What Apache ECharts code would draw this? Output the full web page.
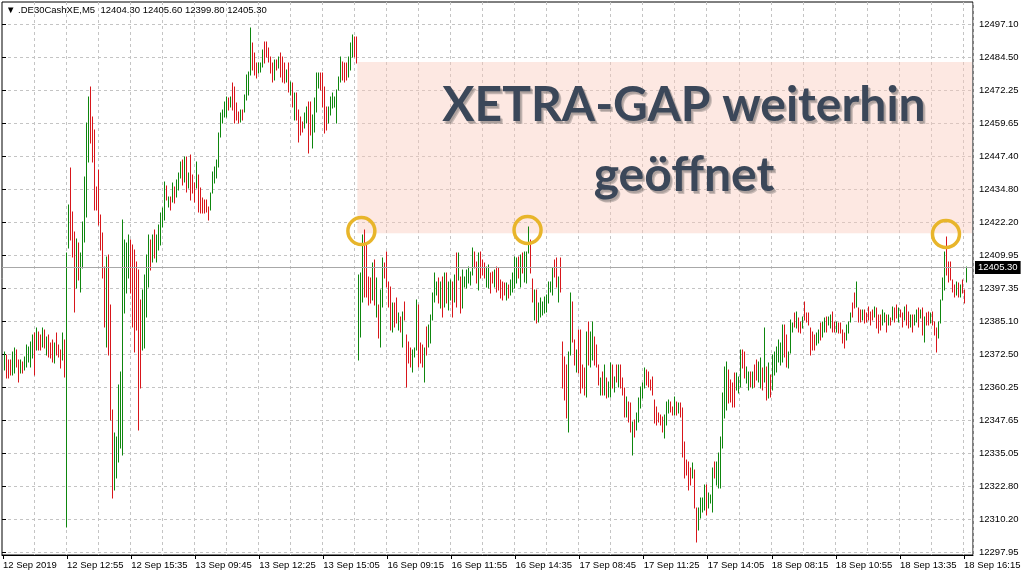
<!DOCTYPE html>
<html><head><meta charset="utf-8">
<script src="https://cdn.jsdelivr.net/npm/echarts@6/dist/echarts.min.js"></script>
<style>html,body{margin:0;padding:0;background:#fff}#c{width:1024px;height:576px}</style>
</head><body><div id="c"></div>
<script>
const headerText = '\u25BC .DE30CashXE,M5  12404.30 12405.60 12399.80 12405.30';
const lastClose = 12405.30;
const xTickLabels = ['12 Sep 2019','12 Sep 12:55','12 Sep 15:35','13 Sep 09:45','13 Sep 12:25','13 Sep 15:05','16 Sep 09:15','16 Sep 11:55','16 Sep 14:35','17 Sep 08:45','17 Sep 11:25','17 Sep 14:05','18 Sep 08:15','18 Sep 10:55','18 Sep 13:35','18 Sep 16:15'];
const yTickLabels = ['12297.95','12310.20','12322.80','12335.05','12347.65','12360.25','12372.50','12385.10','12397.35','12409.95','12422.20','12434.80','12447.40','12459.65','12472.25','12484.50','12497.10'];
const titleLines = ['XETRA-GAP weiterhin', 'ge\u00f6ffnet'];

// bar direction per bar: G = up (close > open), R = down
const dirs =
 'GRRRGGRRGR'+'GGGGGRGRRG'+'RGRRRGRRRG'+'RGGRRRGRGG'+'GGGRRRRRRR'+'RGRRRGGGGG'+'GGGRRRRRRG'+'GGGRGRGGGG'+
 'GRGRGRGGGR'+'GRGRRRGRRR'+'RRRGGGGGGG'+'GGRGRRRRGR'+'GGGGRRRGGG'+'RRRRRGRGRR'+'RGRGRGRRRR'+'GGRRGGGGRR'+
 'RRGGGGGGGR'+'RRGGGRRGGG'+'RRRRGRGRGG'+'RRRRGRRGRG'+'RRRRGGGRRR'+'GRGGGGGRGR'+'GRGGRGRGRG'+'GGGGGRRGRR'+
 'RGGRRGRRRR'+'RGRGGGGRGR'+'GGGRRGRGGG'+'GGGGGRRGRR'+'RRGGRRGRRR'+'RGRGGRRRGR'+'GRGGRGRGRR'+'RGRRGRGGGG'+
 'GRRRRRRRRR'+'GGGRRGRGRR'+'RRRRGRRGGG'+'GRGGGRGGGG'+'GGRRRRGGGR'+'RGGRGRRGGR'+'GRGRGGGGGG'+'RRGGGRGRRG'+
 'RRRRRRGGRG'+'GRGGRRGRRR'+'RGGGRRGRRG'+'RRRRRGRRRG'+'GRGRGRRGRR'+'GRRGRGGRGR'+'GRRGRRRGGG'+'GRRRRRGRGR'+'RG';

const highs = [
12373.5,12372.2,12370.3,12370.3,12373.5,12374.7,12374.1,12370.3,12370.3,12369.7,
12371.6,12376.0,12375.3,12377.2,12379.8,12380.4,12382.3,12381.0,12379.8,12382.3,
12381.7,12379.1,12379.8,12376.6,12377.9,12376.6,12380.4,12376.0,12374.1,12380.4,
12377.9,12410.7,12429.0,12442.9,12426.5,12418.9,12416.0,12414.5,12410.7,12422.7,
12439.7,12459.9,12470.0,12473.8,12462.4,12457.4,12435.9,12442.2,12425.2,12418.3,
12405.6,12409.4,12410.1,12391.1,12351.4,12342.5,12341.3,12360.8,12365.9,12423.3,
12415.7,12414.5,12417.6,12415.7,12413.8,12411.9,12407.4,12404.4,12393.0,12396.8,
12402.5,12410.1,12417.6,12415.7,12417.6,12419.5,12417.6,12421.4,12425.9,12427.8,
12437.7,12436.2,12432.0,12432.0,12437.4,12435.8,12438.5,12441.1,12445.3,12446.0,
12447.2,12447.2,12441.1,12447.9,12440.3,12437.4,12445.3,12440.3,12435.4,12431.6,
12430.9,12430.9,12428.2,12433.5,12441.5,12443.4,12446.0,12456.2,12463.8,12465.0,
12468.0,12469.9,12469.5,12469.9,12475.2,12473.7,12467.6,12464.2,12465.0,12465.0,
12470.6,12478.2,12479.3,12496.0,12490.3,12486.5,12482.7,12482.7,12482.7,12487.7,
12490.7,12490.7,12488.4,12485.0,12482.7,12483.9,12483.9,12485.0,12486.5,12485.0,
12482.7,12480.1,12482.7,12475.6,12475.2,12471.4,12471.4,12465.0,12462.3,12460.4,
12463.8,12466.1,12468.0,12468.0,12463.1,12469.5,12479.0,12479.0,12479.0,12479.0,
12473.7,12466.1,12466.1,12469.9,12471.4,12469.9,12472.5,12477.4,12485.0,12483.1,
12482.7,12482.7,12485.0,12490.3,12493.3,12492.6,12492.6,12402.5,12403.2,12417.6,
12419.5,12413.8,12401.7,12401.4,12407.0,12408.2,12401.4,12391.1,12396.8,12408.9,
12407.0,12411.2,12399.8,12397.9,12391.9,12391.9,12393.8,12388.1,12386.6,12388.5,
12392.3,12379.8,12377.1,12374.9,12374.1,12374.9,12393.0,12391.1,12376.7,12376.0,
12374.9,12382.8,12383.6,12387.3,12395.7,12403.2,12399.8,12401.4,12399.8,12401.7,
12403.2,12403.2,12399.8,12400.6,12399.8,12402.5,12410.8,12410.8,12401.7,12404.4,
12401.7,12404.4,12405.5,12403.6,12412.7,12411.2,12407.4,12410.8,12411.2,12408.2,
12407.0,12405.5,12406.3,12403.2,12403.6,12404.4,12405.5,12405.1,12400.6,12399.8,
12399.5,12399.5,12398.7,12400.6,12403.2,12409.3,12408.9,12409.3,12410.1,12410.8,
12411.2,12411.2,12420.7,12415.7,12401.0,12396.8,12396.8,12391.9,12393.8,12392.3,
12394.2,12394.9,12399.8,12399.8,12405.1,12408.2,12408.9,12401.7,12408.9,12377.1,
12371.4,12368.4,12373.3,12395.7,12392.3,12377.9,12374.1,12381.7,12381.7,12368.4,
12367.3,12380.9,12384.7,12380.9,12384.7,12379.0,12376.0,12368.4,12363.5,12365.8,
12368.4,12363.5,12362.0,12369.2,12368.4,12363.9,12368.4,12368.4,12368.4,12363.5,
12359.7,12356.3,12354.4,12354.0,12346.8,12347.6,12350.2,12355.9,12360.1,12361.6,
12367.3,12366.5,12365.8,12362.7,12363.9,12355.2,12352.5,12350.2,12349.5,12348.7,
12349.5,12354.4,12355.2,12354.4,12352.5,12356.3,12354.4,12354.0,12354.0,12352.1,
12339.3,12332.4,12331.7,12329.4,12331.3,12328.7,12314.3,12314.3,12318.1,12318.1,
12323.0,12323.0,12319.9,12319.2,12329.4,12331.7,12331.7,12335.1,12341.1,12357.8,
12367.7,12369.5,12366.5,12362.7,12361.6,12365.4,12365.4,12363.9,12374.1,12374.1,
12373.3,12367.7,12365.8,12365.8,12365.8,12368.4,12370.3,12369.5,12371.1,12367.3,
12382.4,12367.7,12369.2,12364.6,12372.2,12373.3,12375.2,12377.9,12376.7,12383.6,
12383.6,12379.8,12373.3,12385.4,12384.3,12388.1,12388.5,12386.2,12384.7,12386.6,
12392.3,12388.1,12388.1,12382.4,12380.9,12379.8,12380.5,12381.7,12384.3,12384.7,
12386.2,12386.6,12386.6,12387.3,12388.5,12384.7,12384.7,12384.3,12384.3,12381.7,
12380.5,12383.6,12384.7,12388.1,12391.9,12395.7,12399.8,12390.0,12389.2,12389.2,
12389.2,12388.1,12390.4,12388.5,12389.2,12390.4,12390.0,12387.3,12387.3,12389.2,
12388.1,12387.3,12387.3,12386.2,12390.4,12390.0,12391.1,12390.0,12389.2,12388.1,
12390.4,12391.1,12388.5,12387.3,12387.3,12387.3,12389.2,12390.0,12389.2,12390.0,
12386.6,12388.1,12388.5,12388.1,12388.5,12384.7,12382.4,12384.7,12393.0,12401.4,
12411.2,12416.9,12407.4,12407.4,12400.6,12398.7,12399.8,12399.5,12398.7,12400.6,
12396.8,12405.6];

const lows = [
12366.5,12363.4,12363.4,12364.6,12364.6,12365.3,12367.8,12362.1,12365.3,12365.3,
12366.5,12367.8,12369.7,12367.8,12370.9,12364.6,12374.1,12374.1,12374.1,12375.3,
12374.7,12372.2,12371.6,12370.9,12369.7,12369.1,12372.2,12371.6,12367.2,12370.3,
12364.0,12307.2,12412.6,12415.7,12409.4,12388.6,12397.4,12400.6,12396.2,12405.0,
12415.1,12424.6,12445.4,12452.3,12445.4,12427.1,12427.1,12421.4,12411.9,12401.2,
12382.9,12375.3,12372.2,12347.6,12317.9,12321.1,12325.5,12331.8,12336.9,12334.3,
12388.0,12395.5,12401.2,12395.5,12382.8,12373.3,12381.7,12343.8,12359.7,12374.1,
12374.9,12386.6,12397.9,12404.4,12407.4,12408.9,12407.4,12411.9,12413.8,12420.7,
12423.3,12430.9,12428.2,12427.1,12430.1,12429.7,12432.0,12434.7,12439.2,12436.6,
12437.7,12433.9,12435.4,12430.9,12433.5,12430.1,12435.4,12426.3,12425.9,12425.9,
12425.9,12426.3,12423.3,12427.1,12433.5,12437.4,12439.2,12443.4,12454.7,12460.0,
12462.3,12462.3,12465.0,12466.1,12465.0,12460.0,12461.2,12460.0,12460.4,12461.2,
12464.2,12468.7,12470.6,12478.2,12480.1,12478.2,12477.1,12479.0,12479.3,12481.2,
12482.7,12485.0,12483.1,12479.0,12475.6,12476.3,12480.1,12480.9,12477.4,12475.6,
12475.2,12475.6,12471.8,12470.6,12466.1,12461.2,12461.2,12452.8,12455.5,12456.6,
12458.1,12460.0,12448.7,12455.5,12450.6,12456.6,12464.2,12473.3,12472.5,12466.1,
12456.2,12457.4,12460.0,12463.1,12465.7,12466.1,12460.0,12472.5,12475.6,12476.3,
12475.6,12476.3,12477.4,12480.1,12485.0,12485.0,12482.7,12370.3,12379.0,12392.3,
12394.2,12394.2,12391.1,12391.9,12393.0,12391.1,12386.6,12378.6,12375.2,12390.4,
12401.4,12397.9,12390.4,12381.7,12380.9,12382.8,12384.3,12381.7,12380.9,12375.2,
12385.4,12360.1,12369.2,12367.7,12365.8,12371.4,12374.1,12367.7,12369.2,12367.7,
12362.0,12372.2,12375.2,12376.7,12385.4,12392.3,12394.9,12391.9,12390.0,12386.6,
12390.4,12391.9,12389.2,12393.0,12386.6,12392.3,12390.4,12400.6,12388.1,12390.0,
12397.9,12397.6,12399.5,12398.7,12402.5,12405.1,12399.5,12396.8,12401.4,12402.5,
12401.4,12397.9,12397.6,12395.7,12399.5,12397.9,12396.0,12396.8,12393.8,12393.0,
12394.9,12393.0,12393.8,12394.9,12396.0,12397.6,12399.5,12401.4,12397.9,12403.2,
12399.8,12399.5,12410.8,12403.2,12392.3,12385.4,12384.3,12384.7,12386.6,12387.3,
12388.1,12388.5,12391.9,12396.0,12394.9,12401.7,12397.9,12392.3,12396.0,12359.7,
12355.2,12348.4,12343.0,12372.2,12377.1,12368.4,12365.8,12365.4,12357.8,12359.7,
12357.1,12356.3,12368.4,12367.7,12370.3,12368.4,12367.7,12360.8,12357.1,12357.1,
12357.1,12355.9,12356.3,12356.3,12359.7,12358.2,12362.0,12360.1,12359.7,12357.1,
12348.7,12348.7,12346.8,12343.0,12334.3,12341.1,12343.8,12346.8,12352.1,12355.9,
12359.7,12360.8,12360.1,12358.9,12357.1,12346.5,12345.7,12346.8,12345.7,12343.0,
12340.8,12345.7,12350.2,12350.6,12349.5,12349.5,12349.5,12350.2,12348.7,12333.6,
12325.6,12326.8,12321.1,12323.0,12325.6,12314.3,12301.4,12305.9,12310.5,12312.8,
12313.5,12311.6,12314.3,12316.2,12312.8,12325.6,12323.0,12321.8,12321.8,12337.0,
12348.4,12351.4,12354.0,12354.4,12352.5,12352.5,12358.9,12357.8,12360.1,12367.3,
12363.5,12361.6,12358.9,12360.1,12359.7,12360.1,12362.7,12362.0,12359.7,12358.9,
12362.0,12355.2,12355.9,12356.3,12358.9,12364.6,12365.8,12369.5,12368.4,12369.5,
12371.4,12367.7,12367.3,12372.9,12380.9,12382.8,12382.4,12380.9,12380.5,12382.4,
12385.4,12384.7,12383.6,12372.2,12374.1,12374.1,12376.0,12376.7,12377.9,12379.0,
12380.9,12380.9,12383.6,12382.4,12380.9,12380.9,12380.9,12380.5,12380.5,12376.7,
12374.9,12377.9,12380.5,12384.7,12386.6,12390.0,12390.4,12384.7,12384.7,12385.4,
12384.3,12384.7,12385.4,12383.6,12385.4,12386.6,12382.4,12380.5,12381.7,12383.6,
12384.7,12380.9,12383.6,12383.6,12385.4,12384.7,12386.2,12384.7,12386.6,12382.8,
12385.4,12383.6,12382.4,12382.8,12380.9,12383.6,12384.7,12382.8,12386.2,12379.8,
12377.1,12383.6,12383.6,12384.3,12383.6,12379.8,12373.3,12378.6,12384.3,12393.0,
12396.8,12402.5,12399.8,12400.6,12396.0,12394.2,12394.9,12394.2,12394.2,12395.7,
12391.9,12399.8];

// gap zone (Friday close down to Monday level) and the three circled highs
const gapZoneTop = 12483.1;
const gapZoneBottom = 12418.3;
const gapStartBar = 177;
const circledBars = [179, 262, 471];
const circledPrices = [12419.1, 12419.5, 12418.0];

const SLOTS = 485; // bars plus empty chart shift on the right
const categories = [];
for (let i = 0; i < SLOTS; i++) categories.push(String(i));
// [bar index, low, high, up(1)/down(0)]
const barData = highs.map((h, i) => [i, lows[i], h, dirs[i] === 'G' ? 1 : 0]);

const GREEN = '#0e860e', RED = '#d8161b';
const FONT = '"Liberation Sans", Arial, sans-serif';
const TITLE_FONT = 'bold 48px Lato, sans-serif';
const chart = echarts.init(document.getElementById('c'), null, {renderer: 'canvas'});

function renderBar(params, api) {
  const i = api.value(0);
  const lo = api.coord([i, api.value(1)]);
  const hi = api.coord([i, api.value(2)]);
  // snap to a steady 2px pixel grid so every bar is one crisp device column
  const x = 2 * Math.floor(lo[0] / 2) + 2.5;
  let y1 = Math.round(lo[1]) + 0.5, y2 = Math.round(hi[1]) - 0.5;
  if (y1 - y2 < 1) y2 = y1 - 1;
  return {
    type: 'line',
    shape: {x1: x, y1: y1, x2: x, y2: y2},
    style: {stroke: api.value(3) === 1 ? GREEN : RED, lineWidth: 1}
  };
}

const titleText = (text, x, y, fill, z) => ({
  type: 'text', x: x, y: y, z: z,
  style: {text: text, fill: fill, font: TITLE_FONT, align: 'center', verticalAlign: 'middle'}
});

chart.setOption({
  animation: false,
  backgroundColor: '#ffffff',
  grid: [
    {left: 2, right: 51, top: 2, bottom: 21, show: true, borderColor: '#000', borderWidth: 1, backgroundColor: 'transparent'},
    {left: 2, right: 51, top: 24.5, bottom: 23.5, show: false}
  ],
  xAxis: [
    {
      type: 'category', gridIndex: 0, data: categories, boundaryGap: true,
      axisLine: {show: true, lineStyle: {color: '#000', width: 1}},
      axisTick: {show: true, alignWithLabel: true, length: 4, interval: i => i % 32 === 0 && i <= 480, lineStyle: {color: '#000'}},
      axisLabel: {
        show: true, interval: i => i % 32 === 0 && i <= 480, align: 'left', margin: 5,
        fontFamily: FONT, fontSize: 9.5, color: '#000',
        formatter: v => xTickLabels[Number(v) / 32] || ''
      },
      splitLine: {show: true, interval: i => i % 16 === 0 && i > 0, lineStyle: {color: '#c4c4c4', type: [3, 3], width: 1}}
    },
    {type: 'value', gridIndex: 1, min: 0, max: 1, show: false}
  ],
  yAxis: [
    {type: 'value', gridIndex: 0, min: 12296.5, max: 12505.8, position: 'right', scale: true,
     axisLine: {show: false}, axisTick: {show: false}, axisLabel: {show: false}, splitLine: {show: false}},
    {type: 'value', gridIndex: 1, min: 0, max: 16, interval: 1, position: 'right',
     axisLine: {show: false},
     axisTick: {show: true, length: 4, lineStyle: {color: '#000'}},
     axisLabel: {show: true, margin: 6, fontFamily: FONT, fontSize: 9.5, color: '#000', formatter: v => yTickLabels[v] || ''},
     splitLine: {show: true, lineStyle: {color: '#c4c4c4', type: [3, 3], width: 1}}}
  ],
  series: [{
    type: 'custom', xAxisIndex: 0, yAxisIndex: 0, data: barData,
    encode: {x: 0, y: [1, 2]}, renderItem: renderBar, progressive: 0, clip: true,
    silent: true,
    markArea: {
      silent: true,
      itemStyle: {color: 'rgba(250,200,185,0.42)'},
      data: [[{xAxis: gapStartBar, yAxis: gapZoneTop}, {xAxis: SLOTS - 1, yAxis: gapZoneBottom}]]
    },
    markLine: {
      silent: true, symbol: 'none',
      lineStyle: {color: '#a8a8a8', type: 'solid', width: 1},
      label: {show: true, position: 'end', distance: 2, formatter: lastClose.toFixed(2),
              backgroundColor: '#000', color: '#fff', padding: [2, 3, 1, 3], fontFamily: FONT, fontSize: 9.5},
      data: [{yAxis: lastClose}]
    },
    markPoint: {
      silent: true, symbol: 'circle', symbolSize: 27,
      itemStyle: {color: 'rgba(0,0,0,0)', borderColor: '#e8b52a', borderWidth: 3.5},
      label: {show: false},
      data: circledBars.map((b, k) => ({coord: [b, circledPrices[k]]}))
    }
  }],
  graphic: [
    {type: 'text', left: 6, top: 5, z: 100, style: {text: headerText, fill: '#000', font: '9.5px ' + FONT}},
    titleText(titleLines[0], 686.5, 109, 'rgba(70,70,70,0.28)', 98),
    titleText(titleLines[1], 686.5, 179, 'rgba(70,70,70,0.28)', 98),
    titleText(titleLines[0], 685.5, 108, 'rgba(70,70,70,0.22)', 99),
    titleText(titleLines[1], 685.5, 178, 'rgba(70,70,70,0.22)', 99),
    titleText(titleLines[0], 684, 106, '#3b4759', 100),
    titleText(titleLines[1], 684, 176, '#3b4759', 100)
  ]
});
</script></body></html>
